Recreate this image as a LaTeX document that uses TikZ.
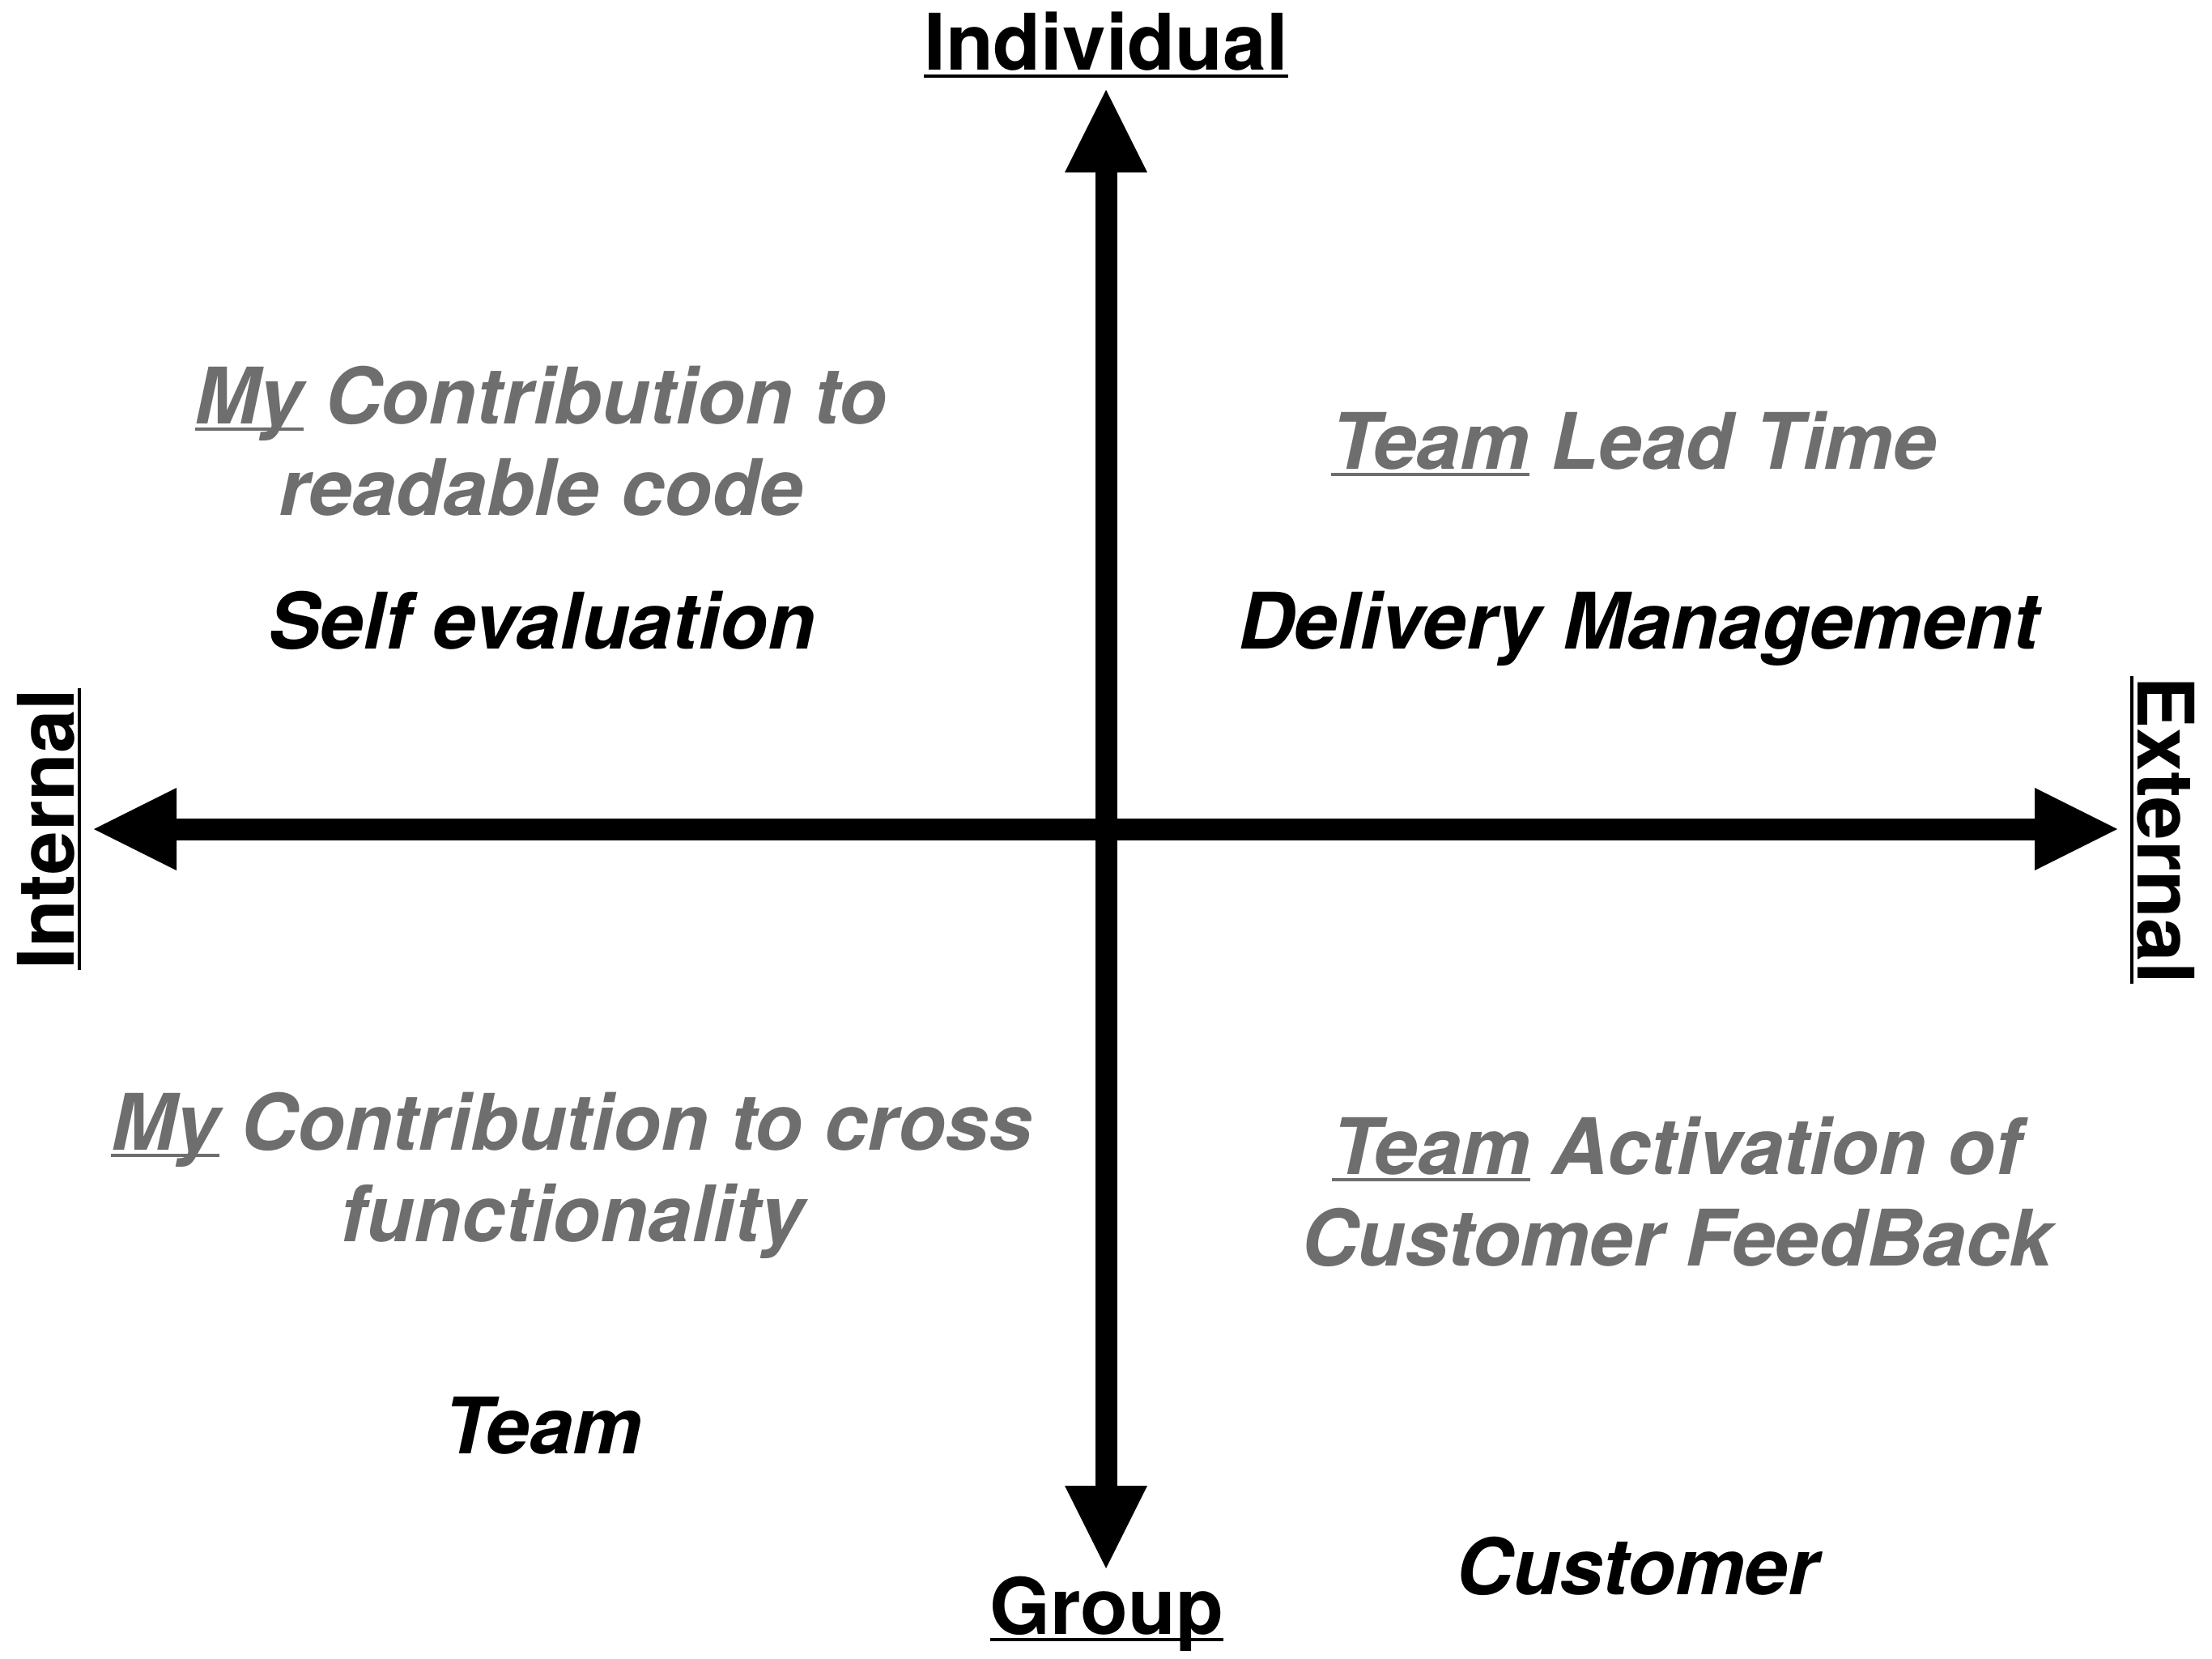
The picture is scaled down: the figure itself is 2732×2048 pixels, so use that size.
\documentclass[tikz,border=0pt]{standalone}
\usepackage{fontspec}
\setmainfont{TeX Gyre Heros}
\usetikzlibrary{arrows.meta}
\definecolor{qgrey}{RGB}{110,110,110}
\newcommand{\ulx}[1]{\setbox0\hbox{#1}\rlap{\rule[-0.095em]{\wd0}{0.045em}}\box0\relax}
\tikzset{
  axis/.style={line width=2.7mm, arrows={Triangle[length=10.2mm,width=10.2mm,line width=0pt]-Triangle[length=10.2mm,width=10.2mm,line width=0pt]}},
  lab/.style={inner sep=0pt, anchor=base, font=\fontsize{27.4pt}{32pt}\selectfont\bfseries},
  quad/.style={lab, font=\fontsize{27.4pt}{32pt}\selectfont\bfseries\itshape},
  dim/.style={text=qgrey}
}
\begin{document}
\begin{tikzpicture}[x=0.1mm,y=-0.1mm]
\useasboundingbox (0,0) rectangle (2732,2048);
\coordinate (T) at (1366,111);
\coordinate (B) at (1366,1937);
\coordinate (L) at (116,1024);
\coordinate (R) at (2615,1024);
\draw[axis] (B) -- (T);
\draw[axis] (L) -- (R);
% axis labels
\node[lab] (ind) at (1366,87) {\ulx{Individual}};
\node[lab] (grp) at (1367,2018) {\ulx{Group}};
\node[lab, rotate=90] (int) at (91,1024) {\ulx{Internal}};
\node[lab, rotate=-90] (ext) at (2640,1025) {\ulx{External}};
% upper left
\node[quad, dim] (ul1) at (668,523) {\ulx{My} Contribution to};
\node[quad, dim] (ul2) at (668,636) {readable code};
\node[quad] (ul3) at (669,801) {Self evaluation};
% upper right
\node[quad, dim] (ur1) at (2018,579) {\ulx{Team} Lead Time};
\node[quad] (ur2) at (2024,801) {Delivery Management};
% lower left
\node[quad, dim] (ll1) at (706,1420) {\ulx{My} Contribution to cross};
\node[quad, dim] (ll2) at (707,1533) {functionality};
\node[quad] (ll3) at (671,1795) {Team};
% lower right
\node[quad, dim] (lr1) at (2071,1450) {\ulx{Team} Activation of};
\node[quad, dim] (lr2) at (2071,1563) {Customer FeedBack};
\node[quad] (lr3) at (2022,1969) {Customer};
\end{tikzpicture}
\end{document}
